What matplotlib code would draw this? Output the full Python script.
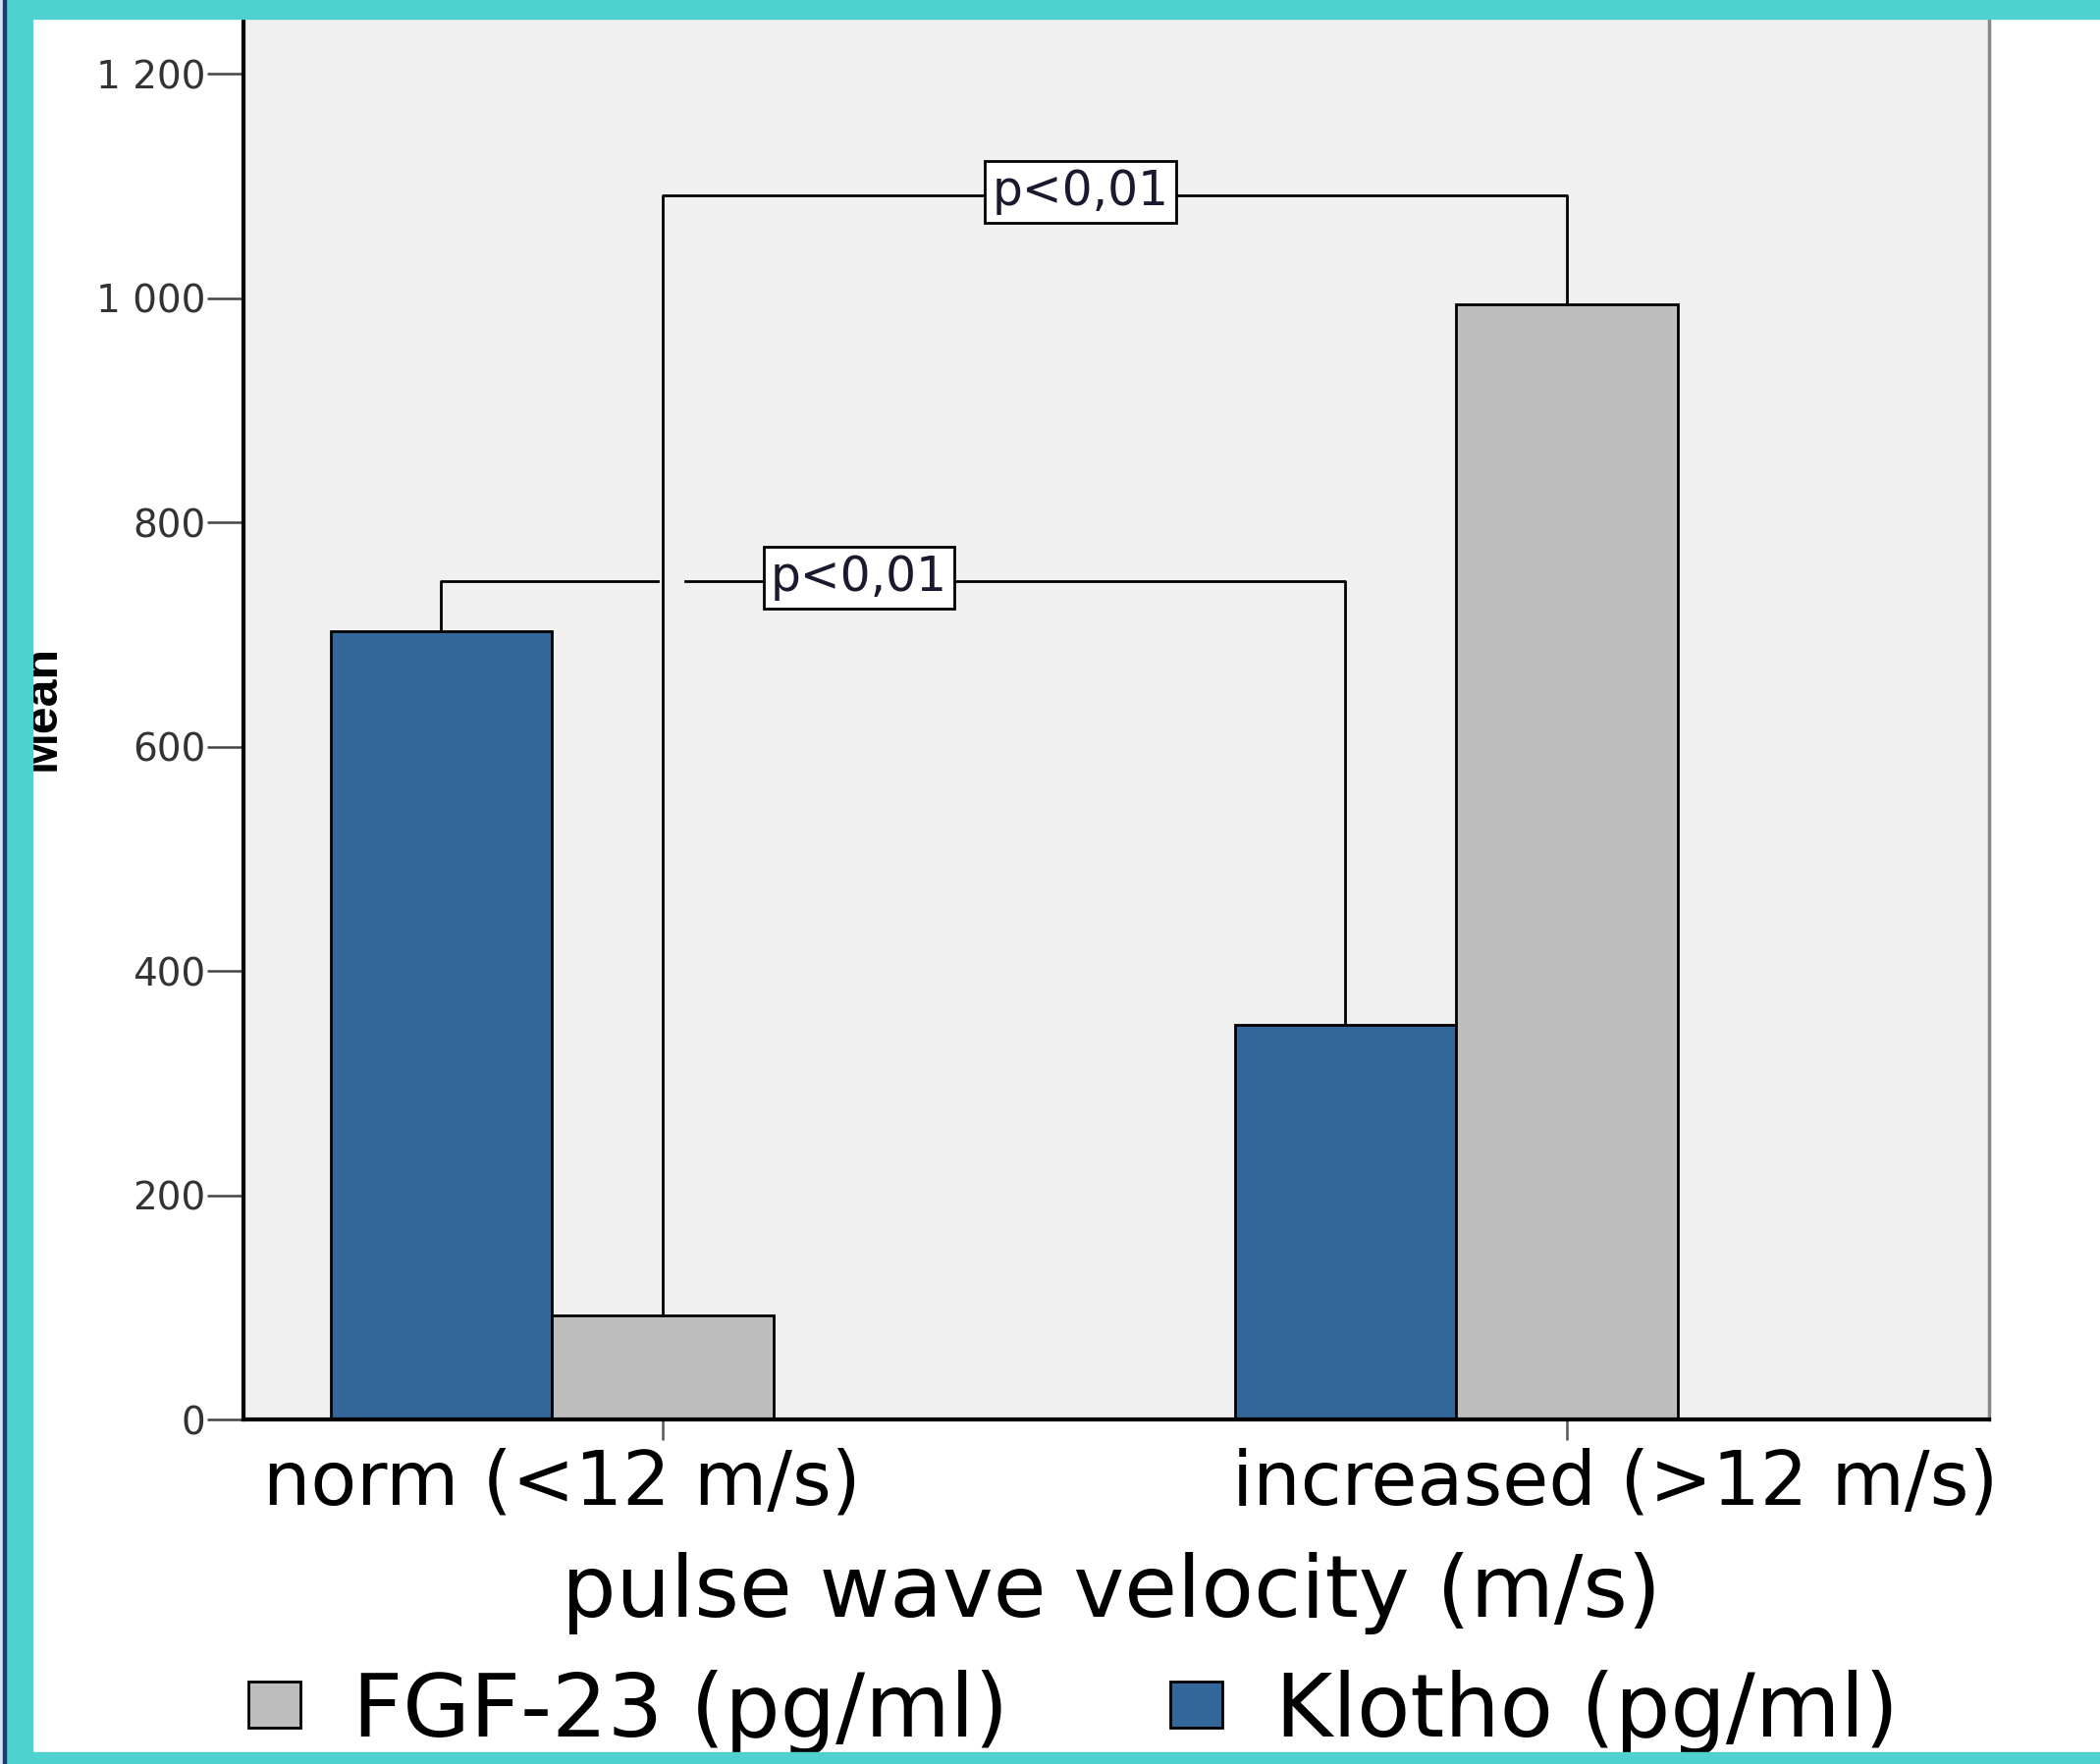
import matplotlib.pyplot as plt
from matplotlib.patches import Rectangle
from matplotlib.ticker import FuncFormatter

plt.rcParams['font.family'] = ['DejaVu Sans']

# data
groups = ['norm (<12 m/s)', 'increased (>12 m/s)']
klotho = [703, 352]
fgf23 = [93, 995]
series_names = ['FGF-23 (pg/ml)', 'Klotho (pg/ml)']
p_labels = ['p<0,01', 'p<0,01']
yticks = [0, 200, 400, 600, 800, 1000, 1200]

W, H = 2139, 1797
fig = plt.figure(figsize=(W / 100, H / 100), dpi=100)
ax = fig.add_axes([248 / W, 1 - 1446 / H, (2026 - 248) / W, 1446 / H])
ax.set_facecolor('#f0f0f0')

x = [0, 1]
w = 0.245
kb = ax.bar([i - w for i in x], klotho, w, color='#336699', edgecolor='black',
            linewidth=2, zorder=2, label=series_names[1])
fb = ax.bar(x, fgf23, w, color='#bebebe', edgecolor='black',
            linewidth=2, zorder=2, label=series_names[0])

ax.set_xlim(-0.4636, 1.4669)
ax.set_ylim(0, 1266)

# significance brackets
lw = 2
k_level, f_level = 748, 1092
kx0, kx1 = x[0] - w, x[1] - w
ax.plot([kx0, kx0, x[0] - 0.005], [klotho[0], k_level, k_level], color='black', lw=lw, zorder=3)
ax.plot([x[0] + 0.025, kx1, kx1], [k_level, k_level, klotho[1]], color='black', lw=lw, zorder=3)
ax.plot([x[0], x[0], x[1], x[1]], [fgf23[0], f_level, f_level, fgf23[1]], color='black', lw=lw, zorder=3)

box = dict(boxstyle='square,pad=0.15', fc='white', ec='black', lw=2)
ax.text((kx0 + kx1) / 2 - 0.038, k_level + 3, p_labels[0], fontsize=35, color='#1a1a2e',
        ha='center', va='center', bbox=box, zorder=4)
ax.text((x[0] + x[1]) / 2 - 0.038, f_level + 3, p_labels[1], fontsize=35, color='#1a1a2e',
        ha='center', va='center', bbox=box, zorder=4)

# axes styling
ax.set_yticks(yticks)
ax.yaxis.set_major_formatter(FuncFormatter(lambda v, p: f"{int(v):,}".replace(",", " ")))
ax.tick_params(axis='y', labelsize=28, length=26.6, width=1.8, color='#444444',
               labelcolor='#333333', pad=1)
ax.set_xticks(x)
ax.tick_params(axis='x', length=15, width=1.8, color='#555555', labelbottom=False)
ax.spines['top'].set_visible(False)
ax.spines['left'].set_linewidth(3)
ax.spines['bottom'].set_linewidth(3)
ax.spines['right'].set_color('#888888')
ax.spines['right'].set_linewidth(2.5)

# category labels (offset from ticks as in the original)
label_x = [-0.111, 1.053]
for lx, g in zip(label_x, groups):
    ax.text(lx, -0.045, g, transform=ax.get_xaxis_transform(), fontsize=55,
            ha='center', va='center', color='black')

fig.text(1132 / W, 1 - 1623 / H, 'pulse wave velocity (m/s)', fontsize=63,
         ha='center', va='center')
# y label, partly hidden behind the frame
fig.text(66 / W, 1 - 721 / H, 'Mean', rotation=90, fontsize=36, fontweight='bold',
         family='Liberation Sans', ha='right', va='center')

fig.legend([fb, kb], series_names, loc='center', bbox_to_anchor=(1093 / W, 1 - 1744 / H),
           ncol=2, frameon=False, fontsize=64, handlelength=0.6, handleheight=0.44,
           handletextpad=0.6, columnspacing=1.85, borderpad=0)

# teal frame
teal = '#4fd1d0'
fig.patches.append(Rectangle((0, 1 - 19 / H), 1, 19 / H, transform=fig.transFigure,
                             color=teal, zorder=10))
fig.patches.append(Rectangle((0, 0), 1, 12 / H, transform=fig.transFigure,
                             color=teal, zorder=10))
fig.patches.append(Rectangle((0, 0), 33 / W, 1, transform=fig.transFigure,
                             color=teal, zorder=10))
fig.patches.append(Rectangle((0, 0), 3 / W, 1, transform=fig.transFigure,
                             color='#cfe6f2', zorder=11))
fig.patches.append(Rectangle((3 / W, 0), 3 / W, 1, transform=fig.transFigure,
                             color='#1f3a6e', zorder=11))

fig.savefig('out.png', dpi=100)
